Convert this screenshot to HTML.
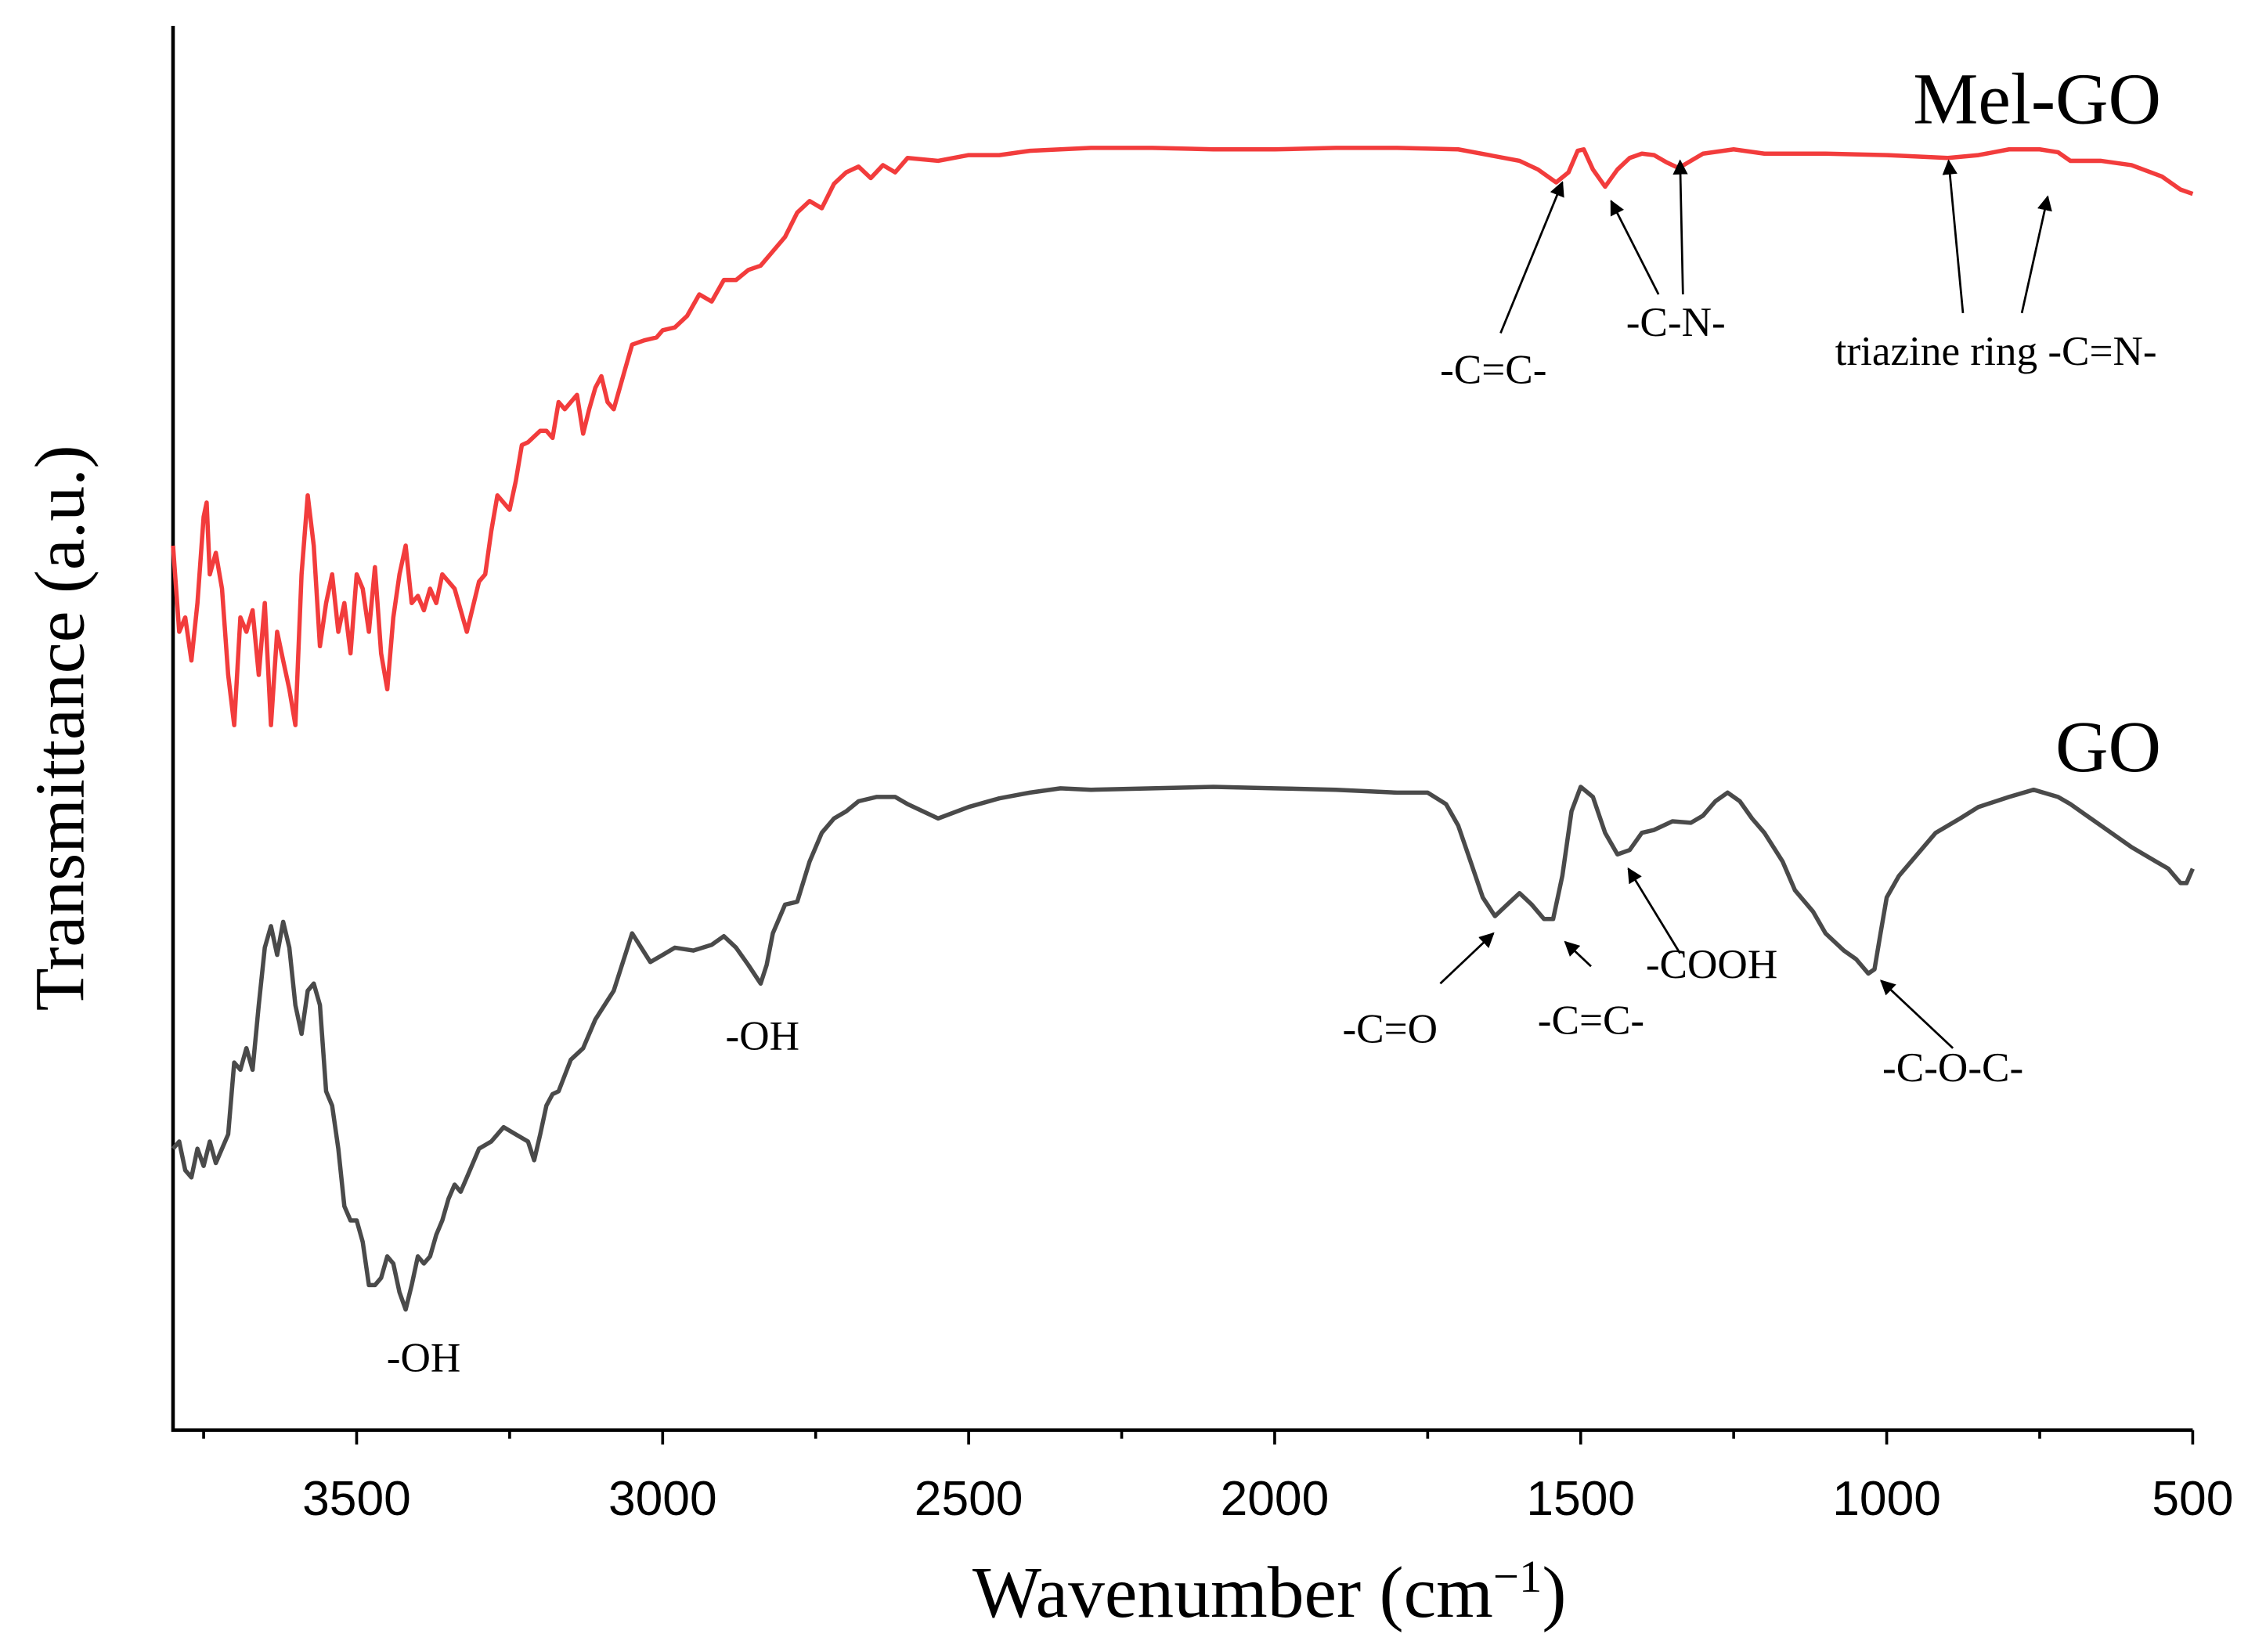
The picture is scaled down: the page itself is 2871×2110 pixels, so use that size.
<!DOCTYPE html>
<html><head><meta charset="utf-8"><style>
html,body{margin:0;padding:0;background:#fff;}
svg{display:block;}
text{font-family:"Liberation Serif",serif;}
.tick{font-family:"Liberation Sans",sans-serif;font-size:34px;}
.ann{font-size:29px;}
</style></head><body>
<svg id="chart" width="2871" height="2110" viewBox="0 0 1565.5 1150.5" xmlns="http://www.w3.org/2000/svg">
<defs><marker id="ah" viewBox="0 0 10 10" refX="9" refY="5" markerWidth="7" markerHeight="7" orient="auto"><path d="M0,0 L10,5 L0,10 z" fill="#000"/></marker></defs>
<g id="axes"></g>
<g id="series"></g>
<g id="annots"></g>
<text x="0" y="0" font-size="49" text-anchor="middle" transform="translate(58,507) rotate(-90)">Transmittance (a.u.)</text>
<text x="884" y="1126" font-size="51" text-anchor="middle">Wavenumber (cm<tspan baseline-shift="super" font-size="32">−1</tspan>)</text>
<text x="1505" y="86" font-size="51" text-anchor="end">Mel-GO</text>
<text x="1505" y="537" font-size="51" text-anchor="end">GO</text>
</svg>
<script>
const goWavenumbers=[3800,3790,3780,3770,3760,3750,3740,3730,3720,3710,3700,3690,3680,3670,3660,3650,3640,3630,3620,3610,3600,3590,3580,3570,3560,3550,3540,3530,3520,3510,3500,3490,3480,3470,3460,3450,3440,3430,3420,3410,3400,3390,3380,3370,3360,3350,3340,3330,3320,3300,3280,3260,3240,3220,3210,3200,3190,3180,3170,3150,3130,3110,3080,3050,3020,3000,2980,2950,2920,2900,2880,2860,2840,2830,2820,2800,2780,2760,2740,2720,2700,2680,2650,2620,2600,2550,2500,2450,2400,2350,2300,2200,2100,2000,1900,1800,1750,1720,1700,1680,1660,1640,1620,1600,1580,1560,1545,1530,1515,1500,1480,1460,1440,1420,1400,1380,1350,1320,1300,1280,1260,1240,1220,1200,1170,1150,1120,1100,1070,1050,1030,1020,1010,1000,980,950,920,880,850,800,760,720,700,650,600,560,540,520,510,500];
const goTransmittance=[200,205,185,180,200,188,205,190,200,210,260,255,270,255,300,340,355,335,358,340,300,280,310,315,300,240,230,200,160,150,150,135,105,105,110,125,120,100,88,105,125,120,125,140,150,165,175,170,180,200,205,215,210,205,192,210,230,238,240,262,270,290,310,350,330,335,340,338,342,348,340,328,315,328,350,370,372,400,420,430,435,442,445,445,440,430,438,444,448,451,450,451,452,451,450,448,448,440,425,400,375,362,370,378,370,360,360,390,435,452,445,420,405,408,420,422,428,427,432,442,448,442,430,420,400,380,365,350,338,332,322,325,350,375,390,405,420,430,438,445,450,445,440,425,410,400,395,385,385,395];
const melWavenumbers=[3800,3790,3780,3770,3760,3750,3745,3740,3730,3720,3710,3700,3690,3680,3670,3660,3650,3640,3630,3620,3610,3600,3590,3580,3570,3560,3550,3540,3530,3520,3510,3500,3490,3480,3470,3460,3450,3440,3430,3420,3410,3400,3390,3380,3370,3360,3340,3320,3300,3290,3280,3270,3250,3240,3230,3220,3200,3190,3180,3170,3160,3140,3130,3120,3110,3100,3090,3080,3060,3050,3030,3010,3000,2980,2960,2940,2920,2900,2880,2860,2840,2820,2800,2780,2760,2740,2720,2700,2680,2660,2640,2620,2600,2550,2500,2450,2400,2300,2200,2100,2000,1900,1800,1700,1650,1600,1570,1540,1520,1505,1495,1480,1460,1440,1420,1400,1380,1360,1340,1320,1300,1250,1200,1100,1000,900,850,800,750,720,700,650,600,550,520,500];
const melTransmittance=[620,560,570,540,580,640,650,600,615,590,530,495,570,560,575,530,580,495,560,540,520,495,600,655,620,550,580,600,560,580,545,600,590,560,605,545,520,570,600,620,580,585,575,590,580,600,590,560,595,600,630,655,645,665,690,692,700,700,695,720,715,725,698,715,730,738,720,715,745,760,763,765,770,772,780,795,790,805,805,812,815,825,835,852,860,855,872,880,884,876,885,880,890,888,892,892,895,897,897,896,896,897,897,896,892,888,882,873,880,895,896,882,870,882,890,893,892,887,883,888,893,896,893,893,892,890,892,896,896,894,888,888,885,877,868,865];
const xTicks=[3500,3000,2500,2000,1500,1000,500];
const xTickLabels=["3500","3000","2500","2000","1500","1000","500"];
const NS="http://www.w3.org/2000/svg";
const X0=120.5,X1=1527,Y0=996,YT=18;
function xs(w){return X0+(3800-w)*(X1-X0)/3300;}
function ys(v){return 1000-v;}
function mk(tag,attrs,parent){const e=document.createElementNS(NS,tag);for(const k in attrs)e.setAttribute(k,attrs[k]);parent.appendChild(e);return e;}
const axes=document.getElementById('axes');
const ax=mk('path',{d:`M${X0},${YT} L${X0},${Y0} L${X1},${Y0}`,fill:'none',stroke:'#000','stroke-width':2.5},axes);


for(let w=3750;w>=500;w-=250){
  const major=w%500===0;
  const t=mk('line',{x1:xs(w),x2:xs(w),y1:Y0,y2:Y0+(major?10:6),stroke:'#000','stroke-width':2},axes);
  
  
}
xTicks.forEach((w,i)=>{
  const t=mk('text',{x:xs(w),y:1055,'text-anchor':'middle',class:'tick'},axes);
  t.textContent=xTickLabels[i];
  
  
});
const sg=document.getElementById('series');
function line(ws,vs,color,name){
  const d=ws.map((w,i)=>(i?'L':'M')+xs(w).toFixed(1)+','+ys(vs[i]).toFixed(1)).join(' ');
  const p=mk('path',{d:d,fill:'none',stroke:color,'stroke-width':3,'stroke-linejoin':'round'},sg);
  
  
}
line(goWavenumbers,goTransmittance,'#4a4a4a','go-line');
line(melWavenumbers,melTransmittance,'#f23c3c','mel-go-line');
const an=document.getElementById('annots');
const arrows=[[1045,232,1088,127],[1155,205,1122,140],[1172,205,1170,112],[1367,218,1357,112],[1408,218,1426,137],[1003,685,1040,650],[1108,673,1090,656],[1170,664,1134,605],[1360,730,1310,683]];
arrows.forEach(a=>{
  const l=mk('line',{x1:a[0],y1:a[1],x2:a[2],y2:a[3],stroke:'#000','stroke-width':1.5,'marker-end':'url(#ah)'},an);
  
  
});
const labels=[["-C=C-",1040,267],["-C-N-",1167,234],["triazine ring -C=N-",1390,254],["-C=O",968,726],["-C=C-",1108,720],["-COOH",1192,681],["-C-O-C-",1360,753],["-OH",295,955],["-OH",531,731]];
labels.forEach(l=>{
  const t=mk('text',{x:l[1],y:l[2],'text-anchor':'middle',class:'ann'},an);
  t.textContent=l[0];
  
  
});
</script>
</body></html>
